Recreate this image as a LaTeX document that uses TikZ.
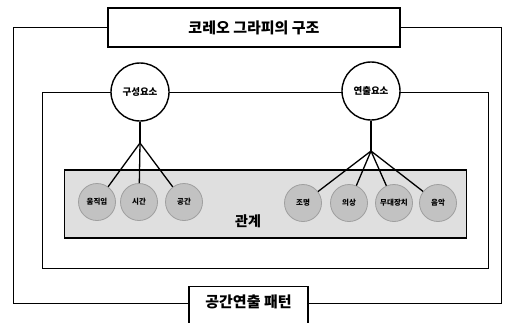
\documentclass[tikz,border=0pt]{standalone}
\usepackage{fontspec}
\setmainfont{Noto Sans CJK KR}[BoldFont={Noto Sans CJK KR Black}]
\begin{document}
\begin{tikzpicture}[x=1pt,y=-1pt,
  frame/.style={draw=black,line width=0.9pt},
  titlebox/.style={draw=black,line width=1.1pt,fill=white},
  bigc/.style={circle,draw=black,line width=1.4pt,fill=white,minimum size=58pt,inner sep=0pt,font=\bfseries\fontsize{9.5}{10}\selectfont},
  smallc/.style={circle,draw=gray!75,line width=0.8pt,fill=gray!48,minimum size=37pt,inner sep=0pt,font=\bfseries\fontsize{7.5}{8}\selectfont},
  fan/.style={draw=black,line width=1.3pt},
  lbl/.style={font=\bfseries\fontsize{15}{16}\selectfont}]
\useasboundingbox (0,0) rectangle (510,322);
\clip (0,0) rectangle (510,322);
% outer frame
\draw[frame] (13,27) rectangle (501,303);
% inner frame
\draw[frame] (42,92) rectangle (488,268);
% title box
\node[titlebox,minimum width=292pt,minimum height=39pt,lbl] (title) at (254,27.5) {코레오 그라피의 구조};
% bottom box (open at bottom)
\node[titlebox,minimum width=119pt,minimum height=50pt,anchor=north,lbl] (bottom) at (248.5,286) {};
\node[lbl] (bottomtxt) at (248.5,302) {공간연출 패턴};
% relation box
\node[draw=black,line width=1.1pt,fill=gray!25,minimum width=402pt,minimum height=68pt,inner sep=0pt] (rel) at (265.5,204) {};
\node[font=\bfseries\fontsize{14}{15}\selectfont] (reltxt) at (248,221) {관계};
% big circles
\node[bigc] (gs) at (140,92) {구성요소};
\node[bigc] (yc) at (371,91) {연출요소};
% apexes
\coordinate (a1) at (140,143);
\coordinate (a2) at (371,151);
% small circles
\node[smallc] (c1) at (97,202) {움직임};
\node[smallc] (c2) at (139,202) {시간};
\node[smallc] (c3) at (184,202) {공간};
\node[smallc] (d1) at (303,203) {조명};
\node[smallc] (d2) at (349,203) {의상};
\node[smallc] (d3) at (394,203) {무대장치};
\node[smallc] (d4) at (438,203) {음악};
% fans
\draw[fan] (gs) -- (a1);
\draw[fan] (a1) -- (c1);
\draw[fan] (a1) -- (c2);
\draw[fan] (a1) -- (c3);
\draw[fan] (yc) -- (a2);
\draw[fan] (a2) -- (d1);
\draw[fan] (a2) -- (d2);
\draw[fan] (a2) -- (d3);
\draw[fan] (a2) -- (d4);
\end{tikzpicture}
\end{document}
